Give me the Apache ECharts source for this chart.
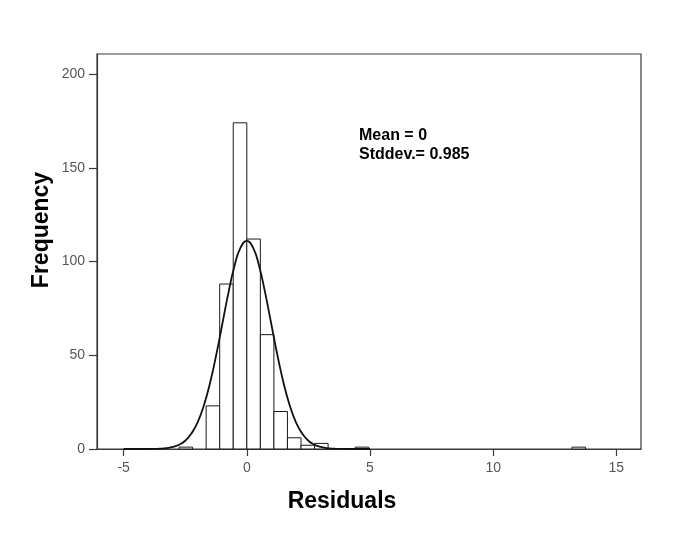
<!DOCTYPE html>
<html>
<head>
<meta charset="utf-8">
<script src="https://cdn.jsdelivr.net/npm/echarts@6/dist/echarts.min.js"></script>
<style>html,body{margin:0;padding:0;background:#fff;}#c{width:685px;height:536px;}</style>
</head>
<body>
<div id="c"></div>
<script>
// Histogram bins (residual ranges) and frequencies
var binLo  = [-2.75, -1.65, -1.1, -0.55, 0,    0.55, 1.1,  1.65, 2.2,  2.75, 4.4,  13.2];
var binHi  = [-2.2,  -1.1,  -0.55, 0,    0.55, 1.1,  1.65, 2.2,  2.75, 3.3,  4.95, 13.75];
var counts = [1,     23,    88,    174,  112,  61,   20,   6,    2,    3,    1,    1];

// Fitted normal curve
var curveX = [-5, -4.5, -4, -3.75, -3.5, -3.25, -3, -2.75, -2.5, -2.25, -2, -1.75, -1.5, -1.25, -1, -0.75, -0.5, -0.25, 0,
              0.25, 0.5, 0.75, 1, 1.25, 1.5, 1.75, 2, 2.25, 2.5, 2.75, 3, 3.25, 3.5, 3.75, 4, 4.5, 5];
var curveY = [0, 0, 0.03, 0.08, 0.2, 0.5, 1.1, 2.3, 4.4, 8.2, 14.1, 22.9, 34.8, 49.6, 66.3, 83, 97.6, 107.5, 111,
              107.5, 97.6, 83, 66.3, 49.6, 34.8, 22.9, 14.1, 8.2, 4.4, 2.3, 1.1, 0.5, 0.2, 0.08, 0.03, 0, 0];

var xTicks = [-5, 0, 5, 10, 15];
var yTicks = [0, 50, 100, 150, 200];
var xTitle = 'Residuals';
var yTitle = 'Frequency';
var statLines = ['Mean = 0', 'Stddev.= 0.985'];

var barData = binLo.map(function (lo, i) { return [lo, binHi[i], counts[i]]; });
var curveData = curveX.map(function (x, i) { return [x, curveY[i]]; });

var chart = echarts.init(document.getElementById('c'), null, {renderer: 'canvas'});
var axisColor = '#3a3a3a';
var labelColor = '#555555';
var titleFont = 'bold 23px "Liberation Sans", Arial';
chart.setOption({
  backgroundColor: '#ffffff',
  animation: false,
  grid: {left: 97, top: 54, right: 44, bottom: 87, show: true, borderColor: axisColor, borderWidth: 1.2, backgroundColor: '#ffffff'},
  xAxis: {
    type: 'value', min: -6.08, max: 16,
    splitLine: {show: false},
    axisLine: {onZero: false, lineStyle: {color: axisColor, width: 1.2}},
    axisTick: {show: true, length: 7, inside: false, customValues: xTicks, lineStyle: {color: axisColor, width: 1.2}},
    axisLabel: {customValues: xTicks, margin: 12, fontFamily: 'Liberation Sans, Arial', fontSize: 14, color: labelColor}
  },
  yAxis: {
    type: 'value', min: 0, max: 210.7,
    splitLine: {show: false},
    axisLine: {show: true, onZero: false, lineStyle: {color: axisColor, width: 1.2}},
    axisTick: {show: true, length: 8, customValues: yTicks, lineStyle: {color: axisColor, width: 1.2}},
    axisLabel: {customValues: yTicks, margin: 12, fontFamily: 'Liberation Sans, Arial', fontSize: 14, color: labelColor}
  },
  graphic: [{
    type: 'text', left: 359, top: 126,
    style: {text: statLines.join('\n'), font: 'bold 16px "Liberation Sans", Arial', fill: '#000', lineHeight: 19}
  }, {
    type: 'text', x: 342, y: 502,
    style: {text: xTitle, font: titleFont, fill: '#000', align: 'center', verticalAlign: 'middle'}
  }, {
    type: 'text', x: 42, y: 230, rotation: Math.PI / 2,
    style: {text: yTitle, font: titleFont, fill: '#000', align: 'center', verticalAlign: 'middle'}
  }],
  series: [{
    type: 'custom',
    data: barData,
    encode: {x: [0, 1], y: 2},
    renderItem: function (params, api) {
      var p0 = api.coord([api.value(0), 0]);
      var p1 = api.coord([api.value(1), api.value(2)]);
      return {
        type: 'rect',
        shape: {x: p0[0], y: p1[1], width: p1[0] - p0[0], height: p0[1] - p1[1]},
        style: {fill: '#ffffff', stroke: '#1a1a1a', lineWidth: 1}
      };
    },
    z: 2
  }, {
    type: 'line',
    data: curveData,
    smooth: true,
    showSymbol: false,
    symbol: 'none',
    lineStyle: {color: '#111', width: 1.8},
    z: 3
  }]
});
</script>
</body>
</html>
